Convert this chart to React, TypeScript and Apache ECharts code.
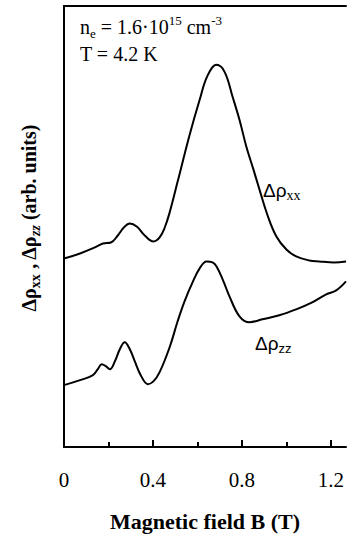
import React, { useEffect, useRef } from "react";
import * as echarts from "echarts";

const X_MIN = 0;
const X_MAX = 1.268;
const X_LABEL_TICKS = [0, 0.4, 0.8, 1.2];
const X_MINOR_TICKS = [0.2, 0.6, 1.0];

const B_XX = [0, 0.072, 0.139, 0.175, 0.211, 0.242, 0.269, 0.296, 0.327, 0.363, 0.403, 0.43, 0.453, 0.475, 0.511, 0.565, 0.61, 0.645, 0.686, 0.722, 0.758, 0.789, 0.82, 0.852, 0.879, 0.914, 0.955, 1.0, 1.044, 1.103, 1.147, 1.215, 1.268];
const RHO_XX = [189, 194, 200, 204, 205, 212, 220, 224, 221, 212, 206, 210, 220, 235, 266, 313, 348, 372, 383, 376, 351, 328, 301, 278, 258, 233, 211, 198, 191, 187, 186, 185, 186];

const B_ZZ = [0, 0.072, 0.13, 0.152, 0.17, 0.188, 0.206, 0.229, 0.251, 0.273, 0.296, 0.318, 0.345, 0.377, 0.403, 0.43, 0.475, 0.511, 0.542, 0.578, 0.61, 0.641, 0.668, 0.686, 0.717, 0.744, 0.789, 0.834, 0.892, 0.968, 1.044, 1.116, 1.179, 1.224, 1.268];
const RHO_ZZ = [62, 67, 72, 78, 83, 81, 78, 86, 98, 105, 98, 86, 72, 63, 66, 75, 100, 126, 146, 165, 179, 186, 185, 181, 166, 151, 131, 125, 128, 132, 138, 145, 153, 157, 166];

const SERIF = "'Liberation Serif', 'Times New Roman', serif";
const SANS = "'Liberation Sans', Arial, sans-serif";

export default function App() {
  const ref = useRef<HTMLDivElement>(null);
  useEffect(() => {
    const chart = echarts.init(ref.current!, null, { renderer: "svg" });
    const lineStyle = { color: "#000", width: 2 };
    chart.setOption({
      animation: false,
      backgroundColor: "#fff",
      grid: { left: 64, top: 6, right: 0, bottom: 89, containLabel: false },
      xAxis: [
        {
          type: "value",
          min: X_MIN,
          max: X_MAX,
          position: "bottom",
          axisLine: { show: true, lineStyle: { color: "#000", width: 2 } },
          axisTick: { show: true, inside: true, length: 7, customValues: X_LABEL_TICKS, lineStyle: { color: "#000", width: 2 } },
          axisLabel: { show: true, customValues: X_LABEL_TICKS, margin: 22, color: "#000", fontFamily: SERIF, fontSize: 21 },
          splitLine: { show: false },
          name: "Magnetic field B (T)",
          nameLocation: "middle",
          nameGap: 63,
          nameTextStyle: { color: "#000", fontFamily: SERIF, fontSize: 22, fontWeight: "bold" },
        },
        {
          type: "value",
          min: X_MIN,
          max: X_MAX,
          position: "bottom",
          axisLine: { show: false },
          axisTick: { show: true, inside: true, length: 5, customValues: X_MINOR_TICKS, lineStyle: { color: "#000", width: 2 } },
          axisLabel: { show: false },
          splitLine: { show: false },
        },
        {
          type: "value",
          min: X_MIN,
          max: X_MAX,
          position: "top",
          axisLine: { show: true, lineStyle: { color: "#000", width: 2 } },
          axisTick: { show: false },
          axisLabel: { show: false },
          splitLine: { show: false },
        },
      ],
      yAxis: {
        type: "value",
        min: 0,
        max: 442,
        axisLine: { show: true, lineStyle: { color: "#000", width: 2 } },
        axisTick: { show: false },
        axisLabel: { show: false },
        splitLine: { show: false },
      },
      series: [
        {
          type: "line",
          name: "Δρxx",
          xAxisIndex: 0,
          data: B_XX.map((b, i) => [b, RHO_XX[i]]),
          smooth: 0.4,
          showSymbol: false,
          lineStyle,
        },
        {
          type: "line",
          name: "Δρzz",
          xAxisIndex: 0,
          data: B_ZZ.map((b, i) => [b, RHO_ZZ[i]]),
          smooth: 0.4,
          showSymbol: false,
          lineStyle,
        },
      ],
      graphic: [
        {
          type: "text",
          x: 80,
          y: 27,
          style: {
            text: "{m|n}{sub|e}{m| = 1.6·10}{sup|15}{m| cm}{sup|-3}",
            verticalAlign: "middle",
            rich: {
              m: { fontFamily: SERIF, fontSize: 20, lineHeight: 26, verticalAlign: "middle", fill: "#000" },
              sub: { fontFamily: SERIF, fontSize: 13, lineHeight: 13, verticalAlign: "bottom", fill: "#000" },
              sup: { fontFamily: SERIF, fontSize: 13, lineHeight: 13, verticalAlign: "top", fill: "#000" },
            },
          },
        },
        {
          type: "text",
          x: 80,
          y: 54,
          style: { text: "T = 4.2 K", fontFamily: SERIF, fontSize: 20, fill: "#000", verticalAlign: "middle" },
        },
        {
          type: "text",
          x: 263,
          y: 190,
          style: {
            text: "{m|Δρ}{sub|xx}",
            verticalAlign: "middle",
            rich: {
              m: { fontFamily: SANS, fontSize: 19, lineHeight: 24, verticalAlign: "middle", fill: "#000" },
              sub: { fontFamily: SERIF, fontSize: 14, lineHeight: 14, verticalAlign: "bottom", fill: "#000" },
            },
          },
        },
        {
          type: "text",
          x: 255,
          y: 343,
          style: {
            text: "{m|Δρ}{sub|zz}",
            verticalAlign: "middle",
            rich: {
              m: { fontFamily: SANS, fontSize: 19, lineHeight: 24, verticalAlign: "middle", fill: "#000" },
              sub: { fontFamily: SANS, fontSize: 13, lineHeight: 13, verticalAlign: "bottom", fill: "#000" },
            },
          },
        },
        {
          type: "text",
          x: 29,
          y: 218,
          rotation: Math.PI / 2,
          style: {
            text: "{m|Δρ}{sub|xx}{m| , Δρ}{subi|zz}{m| (arb. units)}",
            align: "center",
            verticalAlign: "middle",
            rich: {
              m: { fontFamily: SERIF, fontSize: 20, fontWeight: "bold", lineHeight: 26, verticalAlign: "middle", fill: "#000" },
              sub: { fontFamily: SERIF, fontSize: 14, fontWeight: "bold", lineHeight: 14, verticalAlign: "bottom", fill: "#000" },
              subi: { fontFamily: SERIF, fontSize: 14, fontWeight: "bold", fontStyle: "italic", lineHeight: 14, verticalAlign: "bottom", fill: "#000" },
            },
          },
        },
      ],
    });
    return () => chart.dispose();
  }, []);
  return <div ref={ref} style={{ position: "absolute", left: 0, top: 0, width: 347, height: 537 }} />;
}
